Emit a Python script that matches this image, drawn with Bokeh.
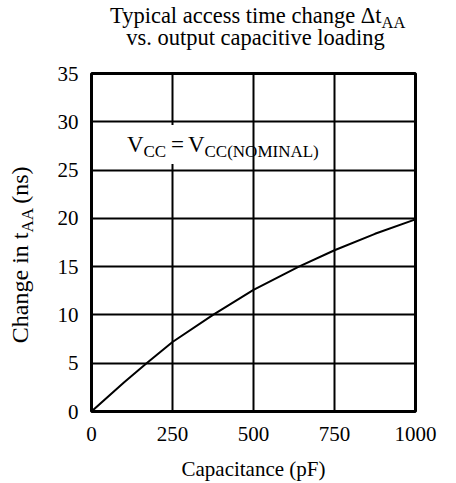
from math import pi
from bokeh.plotting import figure
from bokeh.models import Label, FixedTicker, Range1d
from bokeh.layouts import column, row
from bokeh.embed import file_html
from bokeh.resources import INLINE

# ---- data ----
capacitance_pf = [0, 100, 170, 250, 375, 500, 640, 750, 875, 1000]
delta_taa_ns = [0, 3.0, 5.0, 7.2, 10.0, 12.6, 15.0, 16.7, 18.4, 19.9]
x_ticks = [0, 250, 500, 750, 1000]
y_ticks = [0, 5, 10, 15, 20, 25, 30, 35]
x_grid = [250, 500, 750]
y_grid = [5, 10, 15, 20, 25, 30]

FONT = "Liberation Serif"
TOTAL_W, TOTAL_H = 456, 483
TOP_H, LEFT_W = 60, 40
# frame edges in page pixels
FL, FR, FT, FB = 91, 415, 73, 412

MAIN_W, MAIN_H = TOTAL_W - LEFT_W, TOTAL_H - TOP_H


def blank(w, h, xr, yr):
    f = figure(width=w, height=h, x_range=xr, y_range=yr,
               x_axis_type=None, y_axis_type=None,
               output_backend="svg", toolbar_location=None, min_border=0)
    f.outline_line_color = None
    f.background_fill_color = "white"
    f.border_fill_color = "white"
    f.grid.visible = False
    return f


top = blank(TOTAL_W, TOP_H, Range1d(0, TOTAL_W), Range1d(TOP_H, 0))
side = blank(LEFT_W, MAIN_H, Range1d(0, LEFT_W), Range1d(TOTAL_H, TOP_H))

p = figure(width=MAIN_W, height=MAIN_H, x_range=Range1d(0, 1000), y_range=Range1d(0, 35),
           output_backend="svg", toolbar_location=None,
           min_border_left=FL - LEFT_W, min_border_right=TOTAL_W - FR,
           min_border_top=FT - TOP_H, min_border_bottom=TOTAL_H - FB)
p.background_fill_color = "white"
p.border_fill_color = "white"
p.outline_line_color = "black"
p.outline_line_width = 3
p.outline_line_alpha = 1.0

for ax in (p.xaxis, p.yaxis):
    ax.axis_line_color = None
    ax.major_tick_line_color = None
    ax.minor_tick_line_color = None
    ax.major_tick_out = 0
    ax.major_label_text_font = FONT
    ax.major_label_text_font_size = "21px"
    ax.major_label_text_color = "black"
p.xaxis.ticker = FixedTicker(ticks=x_ticks)
p.yaxis.ticker = FixedTicker(ticks=y_ticks)
p.xaxis.major_label_standoff = 15
p.yaxis.major_label_standoff = 13
p.xaxis.axis_label = "Capacitance (pF)"
p.xaxis.axis_label_text_font = FONT
p.xaxis.axis_label_text_font_size = "21px"
p.xaxis.axis_label_text_font_style = "normal"
p.xaxis.axis_label_text_color = "black"
p.xaxis.axis_label_standoff = 13

p.xgrid.ticker = FixedTicker(ticks=x_grid)
p.ygrid.ticker = FixedTicker(ticks=y_grid)
for g in (p.xgrid, p.ygrid):
    g.grid_line_color = "black"
    g.grid_line_width = 2
    g.grid_line_alpha = 1.0

p.line(capacitance_pf, delta_taa_ns, line_color="black", line_width=2)


def X(px):
    return (px - FL) / (FR - FL) * 1000


def Y(py):
    return (FB - py) / (FB - FT) * 35


SHIFT = 0.38  # empirical baseline correction (fraction of font size)


def lab(fig, text, x, y, size, align="left", vertical=False, mapx=None, mapy=None, **kw):
    if vertical:
        x = x - SHIFT * size
    else:
        y = y - SHIFT * size
    if mapx:
        x, y = mapx(x), mapy(y)
    fig.add_layout(Label(x=x, y=y, x_units="data", y_units="data",
                         text=text, text_font=FONT, text_font_size=f"{size}px",
                         text_align=align, text_baseline="alphabetic",
                         text_color="black", angle=(pi / 2 if vertical else 0), **kw))


# title (page pixel coordinates)
lab(top, "Typical access time change \u0394t", 381, 24, 22.5, align="right")
lab(top, "AA", 381, 28, 16.5)
lab(top, "vs. output capacitive loading", 255, 46, 22.5, align="center")

# condition label inside the plot (page pixels mapped to data)
lab(p, "=", 177, 153, 23, align="center", mapx=X, mapy=Y,
    background_fill_color="white", padding=7)
lab(p, "V", 143, 153, 23, align="right", mapx=X, mapy=Y)
lab(p, "CC", 143, 158, 17, mapx=X, mapy=Y)
lab(p, "V", 204, 153, 23, align="right", mapx=X, mapy=Y)
lab(p, "CC(NOMINAL)", 204, 158, 17, mapx=X, mapy=Y)

# y axis title (page pixel coordinates), reads bottom to top
lab(side, "Change in t", 29, 259, 24, align="right", vertical=True)
lab(side, "AA", 33, 259, 17, vertical=True)
lab(side, "(ns)", 29, 223, 24, vertical=True)

layout = column(top, row(side, p))
open("out.html", "w").write(file_html(layout, INLINE))
